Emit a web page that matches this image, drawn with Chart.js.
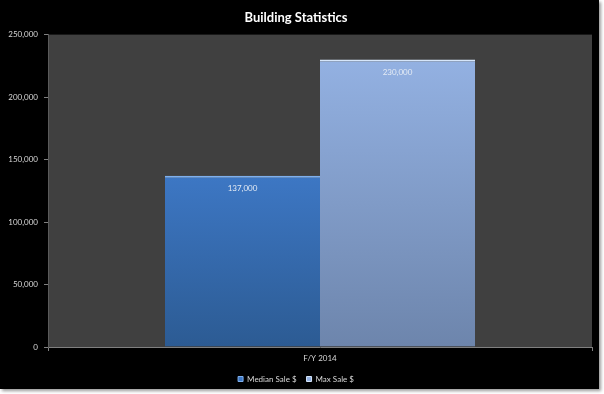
<!DOCTYPE html>
<html>
<head>
<meta charset="utf-8">
<script src="https://cdn.jsdelivr.net/npm/chart.js@4"></script>
<style>
  html, body { margin: 0; padding: 0; background: #ffffff; }
  #frame {
    position: absolute; left: 0; top: 0;
    width: 599px; height: 389px;
    background: #000;
    box-shadow: 2px 2px 3px #9a9a9a;
  }
  canvas { display: block; }
</style>
</head>
<body>
<div id="frame"><canvas id="chart" width="599" height="389"></canvas></div>
<script>
// data
const categories = ["F/Y 2014"];
const seriesNames = ["Median Sale $", "Max Sale $"];
const medianSale = [137000];
const maxSale = [230000];
const yTicks = [0, 50000, 100000, 150000, 200000, 250000];

const FONT = "Lato, 'Open Sans', sans-serif";

// top -> bottom colours for each series
const gradColors = [
  ["#3d77c4", "#2c5b93"],
  ["#93b1e2", "#6d85ac"]
];
const topEdge = ["#7fb0ee", "#d6e6fa"];

function barGradient(ctx, i) {
  const chart = ctx.chart;
  const y = chart.scales.y;
  if (!chart.chartArea || !y || ctx.raw === undefined) return gradColors[i][0];
  const top = y.getPixelForValue(ctx.raw);
  const base = y.getPixelForValue(0);
  const g = chart.ctx.createLinearGradient(0, top, 0, base);
  g.addColorStop(0, gradColors[i][0]);
  g.addColorStop(1, gradColors[i][1]);
  return g;
}

const plotBg = {
  id: "plotBg",
  beforeDraw(chart) {
    const a = chart.chartArea, c = chart.ctx;
    c.save();
    c.fillStyle = "#404040";
    c.fillRect(a.left, a.top, a.right - a.left, a.bottom - a.top);
    c.strokeStyle = "#5a5a5a";
    c.lineWidth = 1;
    c.beginPath();
    c.moveTo(a.left + 0.5, a.top);
    c.lineTo(a.left + 0.5, a.bottom);
    c.stroke();
    c.restore();
  }
};

const barLabels = {
  id: "barLabels",
  afterDatasetsDraw(chart) {
    const c = chart.ctx;
    c.save();
    c.font = "8px " + FONT;
    c.fillStyle = "#e4ebf4";
    c.textAlign = "center";
    c.textBaseline = "middle";
    chart.data.datasets.forEach((ds, i) => {
      chart.getDatasetMeta(i).data.forEach((bar, j) => {
        c.fillText(ds.data[j].toLocaleString("en-US"), bar.x, bar.y + 13);
      });
    });
    c.restore();
  }
};

new Chart(document.getElementById("chart"), {
  type: "bar",
  data: {
    labels: categories,
    datasets: [
      {
        label: seriesNames[0],
        data: medianSale,
        backgroundColor: ctx => barGradient(ctx, 0),
        borderColor: topEdge[0],
        borderWidth: { top: 2, left: 0, right: 0, bottom: 0 },
        borderSkipped: false
      },
      {
        label: seriesNames[1],
        data: maxSale,
        backgroundColor: ctx => barGradient(ctx, 1),
        borderColor: topEdge[1],
        borderWidth: { top: 2, left: 0, right: 0, bottom: 0 },
        borderSkipped: false
      }
    ]
  },
  options: {
    responsive: false,
    animation: false,
    layout: { padding: { left: 0, right: 7, top: 0, bottom: -4 } },
    datasets: { bar: { barPercentage: 1, categoryPercentage: 0.57 } },
    plugins: {
      title: {
        display: true,
        text: "Building Statistics",
        color: "#ffffff",
        font: { family: FONT, size: 13, weight: "bold" },
        padding: { top: 10, bottom: 9 }
      },
      legend: {
        position: "bottom",
        labels: {
          color: "#d8d8d8",
          font: { family: FONT, size: 8 },
          boxWidth: 5,
          boxHeight: 5,
          padding: 10,
          generateLabels(chart) {
            return seriesNames.map((n, i) => ({
              text: n,
              fillStyle: gradColors[i][0],
              strokeStyle: topEdge[i],
              fontColor: "#d8d8d8",
              lineWidth: 1,
              datasetIndex: i
            }));
          }
        }
      },
      tooltip: { enabled: false }
    },
    scales: {
      x: {
        offset: true,
        afterFit(scale) { scale.height = 18; },
        grid: { display: true, drawOnChartArea: false, offset: true, color: "#808080", tickLength: 4 },
        border: { color: "#808080" },
        ticks: { color: "#d8d8d8", font: { family: FONT, size: 8 }, padding: 3 }
      },
      y: {
        min: 0,
        max: 250000,
        afterBuildTicks(scale) { scale.ticks = yTicks.map(v => ({ value: v })); },
        afterFit(scale) { scale.width = 48; },
        grid: { display: true, drawOnChartArea: false, color: "#808080", tickLength: 4 },
        border: { color: "#5a5a5a" },
        ticks: {
          color: "#d8d8d8",
          font: { family: FONT, size: 8 },
          padding: 6,
          callback: v => v.toLocaleString("en-US")
        }
      }
    }
  },
  plugins: [plotBg, barLabels]
});
</script>
</body>
</html>
